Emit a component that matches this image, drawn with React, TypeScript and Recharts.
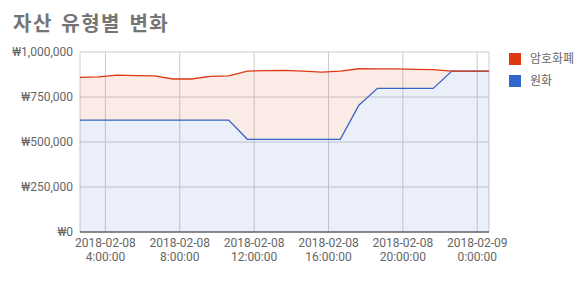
import { AreaChart, Area, XAxis, YAxis, CartesianGrid } from 'recharts';

// hourly snapshots, 2018-02-08 02:38 -> 2018-02-09 00:38
const times = [
  '02:38', '03:38', '04:38', '05:38', '06:38', '07:38', '08:38', '09:38',
  '10:38', '11:38', '12:38', '13:38', '14:38', '15:38', '16:38', '17:38',
  '18:38', '19:38', '20:38', '21:38', '22:38', '23:38', '00:38',
];
const krw = [
  622000, 622000, 622000, 622000, 622000, 622000, 622000, 622000,
  622000, 515000, 515000, 515000, 515000, 515000, 515000, 704000,
  798000, 798000, 798000, 798000, 894000, 894000, 894000,
];
const crypto = [
  237000, 240000, 250000, 247000, 245000, 228000, 228000, 243000,
  245000, 379000, 381000, 383000, 379000, 373000, 379000, 203000,
  108000, 108000, 106000, 104000, 0, 0, 0,
];
const xTicks = [4, 8, 12, 16, 20, 24];
const xTickDates = ['2018-02-08', '2018-02-08', '2018-02-08', '2018-02-08', '2018-02-08', '2018-02-09'];
const xTickTimes = ['4:00:00', '8:00:00', '12:00:00', '16:00:00', '20:00:00', '0:00:00'];
const yTicks = [0, 250000, 500000, 750000, 1000000];

const RED = '#dc3912';
const BLUE = '#3366cc';
const FONT = "Roboto, 'Noto Sans CJK KR', sans-serif";

function toHours(list: string[]) {
  let prev = -1;
  let offset = 0;
  return list.map(t => {
    const [h, m] = t.split(':').map(Number);
    const v = h + m / 60;
    if (v < prev) offset += 24;
    prev = v;
    return v + offset;
  });
}

const hours = toHours(times);
const data = hours.map((t, i) => ({ t, krw: krw[i], crypto: crypto[i] }));

function XTick({ x, y, payload }: { x?: number; y?: number; payload?: { value: number } }) {
  const i = xTicks.indexOf(payload?.value ?? -1);
  if (i < 0) return null;
  return (
    <text x={x} textAnchor="middle" fill="#666" fontSize={12} fontFamily={FONT}>
      <tspan x={x} y={(y ?? 0) + 15}>{xTickDates[i]}</tspan>
      <tspan x={x} y={(y ?? 0) + 29}>{xTickTimes[i]}</tspan>
    </text>
  );
}

const legendItems = [
  { name: '암호화폐', color: RED },
  { name: '원화', color: BLUE },
];

export default function App() {
  return (
    <div style={{ position: 'absolute', left: 0, top: 0, width: 585, height: 297, background: '#fff', fontFamily: FONT }}>
      <div style={{ position: 'absolute', left: 13, top: 10, fontSize: 20, fontWeight: 700, color: '#757575', lineHeight: '28px', letterSpacing: 1.5, wordSpacing: 2 }}>
        자산 유형별 변화
      </div>
      <div style={{ position: 'absolute', left: 509, top: 53 }}>
        {legendItems.map(item => (
          <div key={item.name} style={{ display: 'flex', alignItems: 'center', height: 12, marginBottom: 10 }}>
            <div style={{ width: 12, height: 12, background: item.color, marginRight: 9 }} />
            <span style={{ fontSize: 12, color: '#666', lineHeight: '12px' }}>{item.name}</span>
          </div>
        ))}
      </div>
      <AreaChart width={585} height={297} data={data} margin={{ top: 52, right: 96, bottom: 25, left: 0 }}>
        <CartesianGrid stroke="#ccc" />
        <XAxis
          dataKey="t"
          type="number"
          domain={['dataMin', 'dataMax']}
          ticks={xTicks}
          interval={0}
          height={40}
          tickLine={false}
          tickSize={0}
          tickMargin={0}
          axisLine={{ stroke: '#333', strokeWidth: 1 }}
          tick={<XTick />}
        />
        <YAxis
          width={80}
          domain={[0, 1000000]}
          ticks={yTicks}
          axisLine={false}
          tickLine={false}
          tickSize={0}
          tickMargin={7}
          tick={{ fill: '#666', fontSize: 12, fontFamily: FONT }}
          tickFormatter={(v: number) => '₩' + v.toLocaleString('en-US')}
        />
        <Area type="linear" dataKey="krw" name="원화" stackId="1" stroke={BLUE} strokeWidth={1.3} fill={BLUE} fillOpacity={0.1} isAnimationActive={false} dot={false} />
        <Area type="linear" dataKey="crypto" name="암호화폐" stackId="1" stroke={RED} strokeWidth={1.3} fill={RED} fillOpacity={0.1} isAnimationActive={false} dot={false} />
      </AreaChart>
    </div>
  );
}
